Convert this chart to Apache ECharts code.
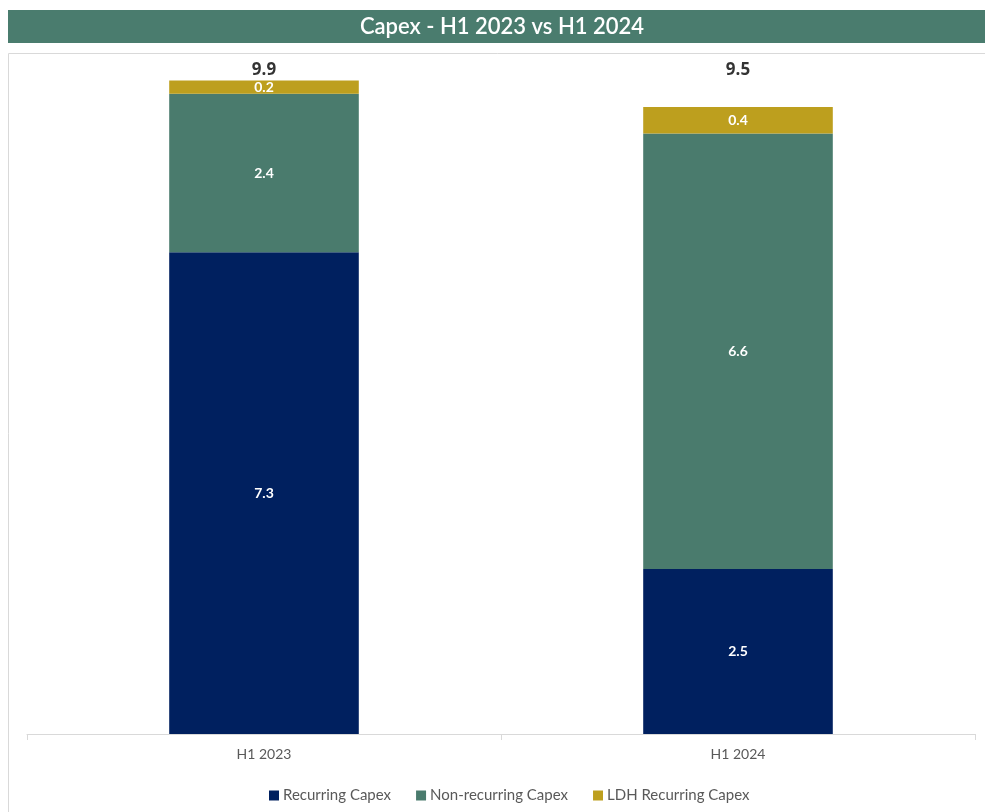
<!DOCTYPE html>
<html>
<head>
<meta charset="utf-8">
<title>Capex - H1 2023 vs H1 2024</title>
<script src="https://cdn.jsdelivr.net/npm/echarts@6/dist/echarts.min.js"></script>
<style>
  html, body { margin: 0; padding: 0; background: #ffffff; }
  #chart { width: 985px; height: 812px; }
</style>
</head>
<body>
<div id="chart"></div>
<script>
// Periods on the category axis
const categories = ['H1 2023', 'H1 2024'];

// Capex components per period
const recurringCapex = [7.3, 2.5];
const nonRecurringCapex = [2.4, 6.6];
const ldhRecurringCapex = [0.2, 0.4];

const seriesNames = ['Recurring Capex', 'Non-recurring Capex', 'LDH Recurring Capex'];
const seriesColors = ['#00205f', '#4a7b6d', '#bd9f1e'];

// Period totals shown above the stacks
const totals = categories.map((_, i) =>
  recurringCapex[i] + nonRecurringCapex[i] + ldhRecurringCapex[i]);

const FONT = 'Lato, "Open Sans", sans-serif';
const TOTAL_LABEL_Y = 10.06;

const chart = echarts.init(document.getElementById('chart'), null, { renderer: 'canvas' });

function stackSeries(name, values, color) {
  return {
    name: name,
    type: 'bar',
    stack: 'capex',
    barWidth: '40%',
    data: values,
    itemStyle: { color: color },
    label: {
      show: true,
      position: 'inside',
      color: '#ffffff',
      fontFamily: FONT,
      fontWeight: 'bold',
      fontSize: 14,
      formatter: p => p.value.toFixed(1)
    },
    emphasis: { disabled: true }
  };
}

chart.setOption({
  animation: false,
  textStyle: { fontFamily: FONT },
  graphic: [
    {
      type: 'rect',
      shape: { x: 8, y: 10, width: 990, height: 33 },
      style: { fill: '#4a7c6e' },
      silent: true
    },
    {
      type: 'text',
      x: 502,
      y: 27,
      style: {
        text: 'Capex - H1 2023 vs H1 2024',
        fill: '#ffffff',
        font: '600 22px Lato, "Open Sans", sans-serif',
        textAlign: 'center',
        textVerticalAlign: 'middle'
      },
      silent: true
    },
    {
      type: 'rect',
      shape: { x: 8.5, y: 53.5, width: 1000, height: 800 },
      style: { fill: 'none', stroke: '#d9d9d9', lineWidth: 1 },
      silent: true,
      z: -1
    }
  ],
  legend: {
    left: 264,
    top: 783,
    icon: 'rect',
    itemWidth: 10,
    itemHeight: 10,
    itemGap: 25,
    textStyle: { color: '#595959', fontSize: 15, fontFamily: FONT, padding: [0, 0, 0, -1] },
    data: seriesNames
  },
  grid: { left: 27, right: 10, top: 8, bottom: 78 },
  xAxis: {
    type: 'category',
    data: categories,
    axisLine: { lineStyle: { color: '#d9d9d9', width: 1 } },
    axisTick: { show: true, alignWithLabel: false, length: 6, lineStyle: { color: '#d9d9d9' } },
    axisLabel: { color: '#595959', fontSize: 14, fontFamily: FONT, margin: 13 }
  },
  yAxis: {
    type: 'value',
    min: 0,
    max: 11,
    show: false,
    splitLine: { show: false }
  },
  series: [
    stackSeries(seriesNames[0], recurringCapex, seriesColors[0]),
    stackSeries(seriesNames[1], nonRecurringCapex, seriesColors[1]),
    stackSeries(seriesNames[2], ldhRecurringCapex, seriesColors[2]),
    {
      name: 'Total',
      type: 'scatter',
      symbolSize: 0,
      itemStyle: { color: 'transparent' },
      silent: true,
      data: totals.map((t, i) => [i, TOTAL_LABEL_Y, t]),
      label: {
        show: true,
        position: 'inside',
        formatter: p => '{t|' + p.value[2].toFixed(1) + '}',
        rich: {
          t: {
            color: '#000000',
            fontFamily: '"Open Sans", Lato, sans-serif',
            fontWeight: 700,
            fontSize: 17
          }
        }
      },
      emphasis: { disabled: true }
    }
  ]
});
</script>
</body>
</html>
